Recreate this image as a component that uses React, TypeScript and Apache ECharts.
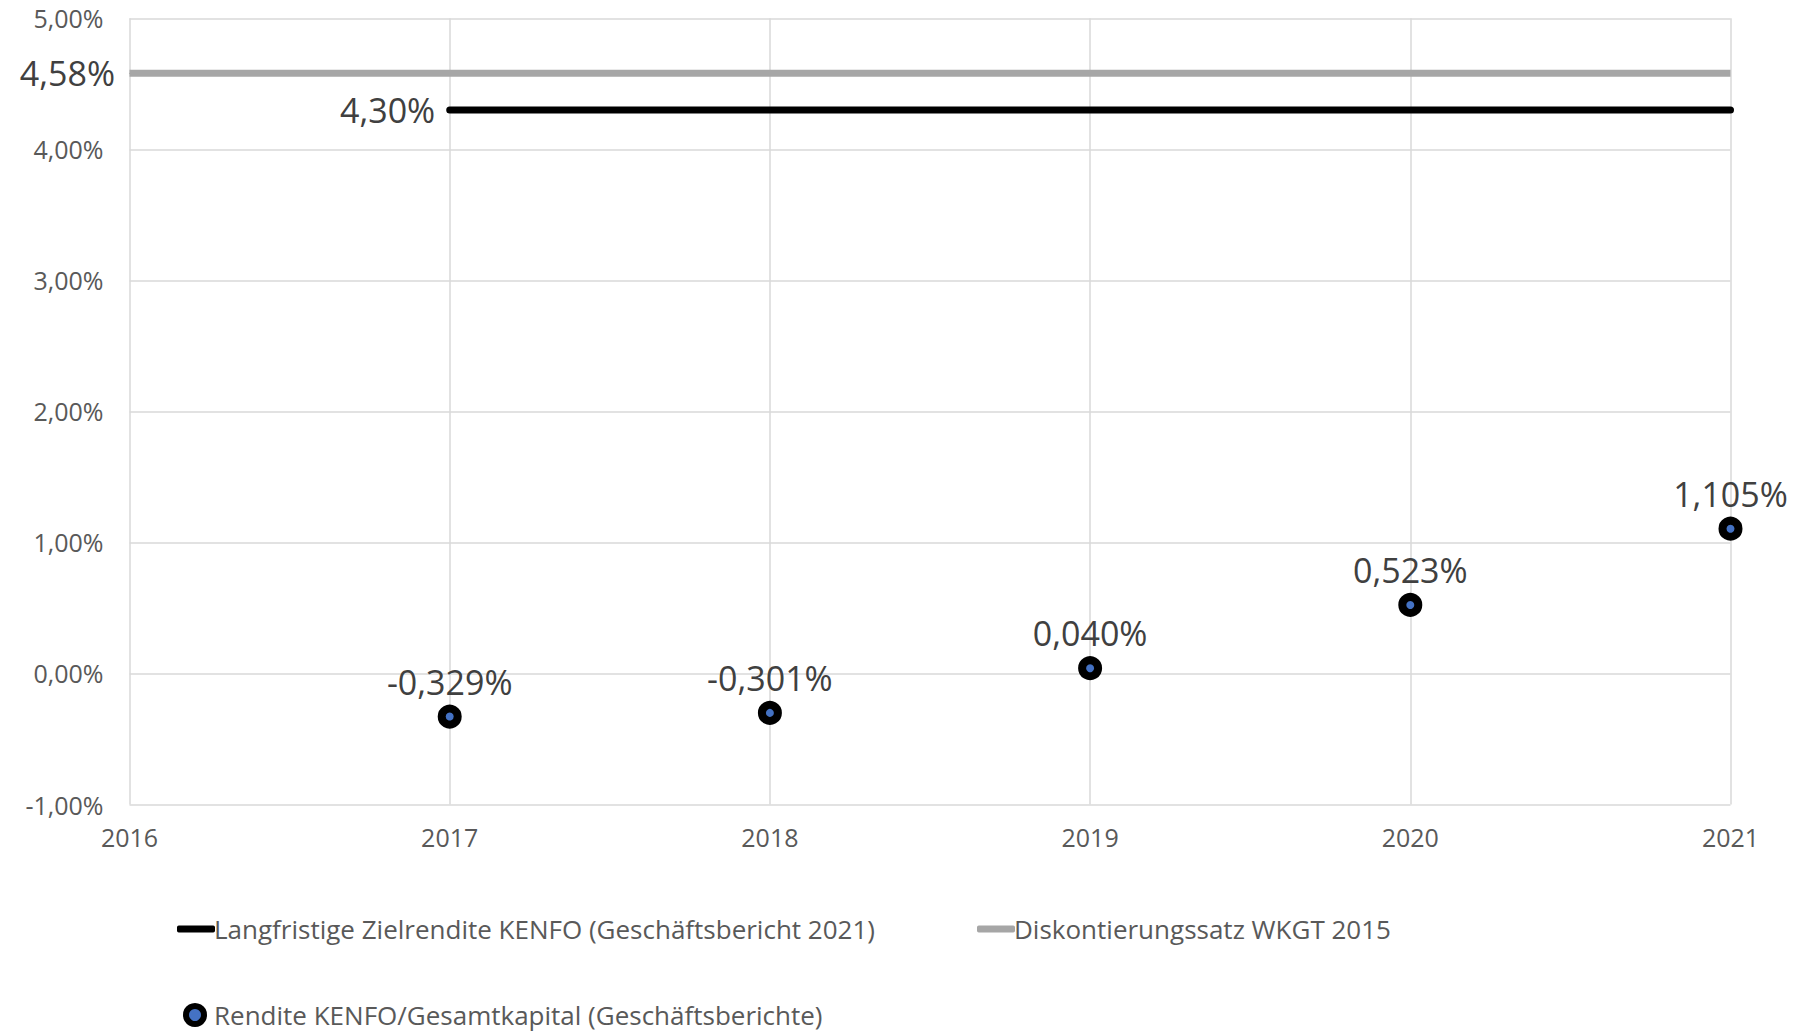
import React, { useEffect, useRef } from "react";
import * as echarts from "echarts";

const years = [2017, 2018, 2019, 2020, 2021];
const renditeValues = [-0.329, -0.301, 0.04, 0.523, 1.105];
const renditeLabels = ["-0,329%", "-0,301%", "0,040%", "0,523%", "1,105%"];
const zielStart = 2017;
const zielEnd = 2021;
const zielValue = 4.3;
const zielLabel = "4,30%";
const diskStart = 2016;
const diskEnd = 2021;
const diskValue = 4.58;
const diskLabel = "4,58%";
const nameZiel = "Langfristige Zielrendite KENFO (Geschäftsbericht 2021)";
const nameDisk = "Diskontierungssatz WKGT 2015";
const nameRendite = "Rendite KENFO/Gesamtkapital (Geschäftsberichte)";

const FONT = "'Open Sans', 'Noto Sans', sans-serif";

export default function App() {
  const ref = useRef<HTMLDivElement>(null);
  useEffect(() => {
    document.body.style.margin = "0";
    const chart = echarts.init(ref.current!, null, { renderer: "svg" });
    const legendText = { color: "#595959", fontSize: 26, fontFamily: FONT };
    chart.setOption({
      animation: false,
      backgroundColor: "#ffffff",
      textStyle: { fontFamily: FONT },
      grid: { left: 129.5, right: 66.5, top: 18.3, bottom: 230.5, containLabel: false },
      xAxis: {
        type: "value",
        min: 2016,
        max: 2021,
        interval: 1,
        axisLine: { show: false },
        axisTick: { show: false },
        splitLine: { show: true, lineStyle: { color: "#d9d9d9", width: 1.5 } },
        axisLabel: {
          color: "#595959",
          fontSize: 25,
          fontFamily: FONT,
          margin: 20,
          formatter: (v: number) => String(v),
        },
      },
      yAxis: {
        type: "value",
        min: -1,
        max: 5,
        interval: 1,
        axisLine: { show: false },
        axisTick: { show: false },
        splitLine: { show: true, lineStyle: { color: "#d9d9d9", width: 1.5 } },
        axisLabel: {
          color: "#595959",
          fontSize: 25,
          fontFamily: FONT,
          margin: 26,
          formatter: (v: number) => v.toFixed(2).replace(".", ",") + "%",
        },
      },
      legend: [
        {
          data: [{ name: nameZiel, icon: "roundRect" }],
          left: 172,
          top: 911,
          itemWidth: 38,
          itemHeight: 7,
          textStyle: { ...legendText, padding: [0, 0, 0, -6] },
        },
        {
          data: [{ name: nameDisk, icon: "roundRect" }],
          left: 972,
          top: 911,
          itemWidth: 38,
          itemHeight: 7,
          textStyle: { ...legendText, padding: [0, 0, 0, -6] },
        },
        {
          data: [nameRendite],
          left: 178,
          top: 997,
          itemWidth: 18,
          itemHeight: 18,
          itemGap: 0,
          itemStyle: { borderColor: "#000000", borderWidth: 6, opacity: 1 },
          textStyle: { ...legendText, padding: [0, 0, 0, 5] },
        },
      ],
      series: [
        {
          name: nameDisk,
          type: "line",
          symbol: "none",
          lineStyle: { color: "#a6a6a6", width: 7 },
          itemStyle: { color: "#a6a6a6" },
          data: [
            {
              value: [diskStart, diskValue],
              label: {
                show: true,
                position: "left",
                distance: 14,
                formatter: diskLabel,
                color: "#404040",
                fontSize: 34,
                fontFamily: FONT,
              },
              symbol: "circle",
              symbolSize: 1,
            },
            [diskEnd, diskValue],
          ],
        },
        {
          name: nameZiel,
          type: "line",
          symbol: "none",
          lineStyle: { color: "#000000", width: 7, cap: "round" },
          itemStyle: { color: "#000000" },
          data: [
            {
              value: [zielStart, zielValue],
              label: {
                show: true,
                position: "left",
                distance: 14,
                formatter: zielLabel,
                color: "#404040",
                fontSize: 34,
                fontFamily: FONT,
              },
              symbol: "circle",
              symbolSize: 1,
            },
            [zielEnd, zielValue],
          ],
        },
        {
          name: nameRendite,
          type: "scatter",
          symbol: "circle",
          symbolSize: 16,
          itemStyle: { color: "#4472c4", borderColor: "#000000", borderWidth: 8, opacity: 1 },
          label: {
            show: true,
            position: "top",
            distance: 6,
            color: "#404040",
            fontSize: 34,
            fontFamily: FONT,
            formatter: (p: any) => renditeLabels[p.dataIndex],
          },
          data: years.map((y, i) => [y, renditeValues[i]]),
        },
      ],
    });
    return () => chart.dispose();
  }, []);
  return <div ref={ref} style={{ width: 1797, height: 1035 }} />;
}
